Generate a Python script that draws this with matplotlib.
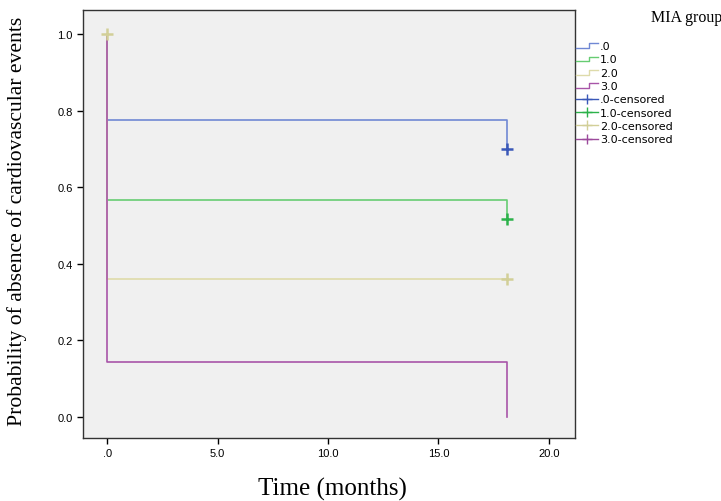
import numpy as np
import matplotlib
matplotlib.use('Agg')
import matplotlib.pyplot as plt
from matplotlib.lines import Line2D
from matplotlib.legend_handler import HandlerBase

# Kaplan-Meier 估计 (按 MIA 分组)
groups = ['.0', '1.0', '2.0', '3.0']
colors = ['#7088d4', '#66cc72', '#dedbaa', '#a855a8']
censor_colors = ['#3a58b8', '#2cb24a', '#d2cf98', '#9c4a9c']
event_time = 18.1
surv_start = [1.0, 1.0, 1.0, 1.0]
surv_mid = [0.776, 0.567, 0.360, 0.143]
surv_end = [0.700, 0.517, 0.360, 0.0]
# 删失点
cens_group = [0, 1, 2, 2]
cens_time = [18.1, 18.1, 18.1, 0.0]
cens_surv = [0.700, 0.517, 0.360, 1.0]

x_ticks = [0, 5, 10, 15, 20]
x_ticklabels = ['.0', '5.0', '10.0', '15.0', '20.0']
y_ticks = [0.0, 0.2, 0.4, 0.6, 0.8, 1.0]


class StepHandler(HandlerBase):
    """图例中画成阶梯形"""
    def create_artists(self, legend, orig_handle, xdescent, ydescent,
                       width, height, fontsize, trans):
        xs = np.array([0, 0.6, 0.6, 1.0]) * width - xdescent
        ys = np.array([0.15, 0.15, 0.75, 0.75]) * height - ydescent
        ln = Line2D(xs, ys, color=orig_handle.get_color(), lw=1.0)
        ln.set_transform(trans)
        return [ln]


fig = plt.figure(figsize=(7.21, 5.02), dpi=100)
ax = fig.add_axes([83 / 721, 1 - 439 / 502, (575 - 83) / 721, (439 - 11) / 502])
ax.set_facecolor('#f0f0f0')

handles = []
for i, g in enumerate(groups):
    t = [0, 0, event_time, event_time]
    s = [surv_start[i], surv_mid[i], surv_mid[i], surv_end[i]]
    h, = ax.plot(t, s, color=colors[i], lw=1.2, zorder=2)
    handles.append(h)

cens_handles = []
for i, g in enumerate(groups):
    idx = [k for k, c in enumerate(cens_group) if c == i]
    ax.plot([cens_time[k] for k in idx], [cens_surv[k] for k in idx],
            linestyle='none', marker='+', markersize=8, mew=1.8,
            color=censor_colors[i], zorder=3)
    cens_handles.append(Line2D([], [], color=censor_colors[i], marker='+',
                               markersize=7, mew=1.0, lw=1.0))

ax.set_xlim(-1.09, 21.18)
ax.set_ylim(-0.055, 1.063)
ax.set_xticks(x_ticks)
ax.set_xticklabels(x_ticklabels)
ax.set_yticks(y_ticks)
ax.set_yticklabels([f'{v:.1f}' for v in y_ticks])
ax.tick_params(direction='out', length=4, width=1, labelsize=8, colors='black')
for lab in ax.get_xticklabels() + ax.get_yticklabels():
    lab.set_family(['Liberation Sans', 'DejaVu Sans'])
for sp in ax.spines.values():
    sp.set_linewidth(1.0)
    sp.set_color('#333333')

ax.set_xlabel('Time (months)', family='Liberation Serif', fontsize=18)
ax.xaxis.set_label_coords(0.507, -0.119)
ax.xaxis.label.set_va('center')
ax.set_ylabel('Probability of absence of cardiovascular events',
              family='Liberation Serif', fontsize=15.6)
ax.yaxis.set_label_coords(-0.134, 0.508)
ax.yaxis.label.set_va('center')

leg_labels = groups + [g + '-censored' for g in groups]
leg = ax.legend(handles + cens_handles, leg_labels,
                handler_map={h: StepHandler() for h in handles},
                loc='upper left', bbox_to_anchor=(1.0, 0.93),
                frameon=False, handlelength=2.0, handletextpad=0.15,
                labelspacing=0.3, borderaxespad=0.1, borderpad=0.0,
                prop={'family': 'DejaVu Sans', 'size': 8})

fig.text(0.903, 0.965, 'MIA group', family='Liberation Serif', fontsize=11.5,
         ha='left', va='center')

fig.savefig('out.png', dpi=100)
